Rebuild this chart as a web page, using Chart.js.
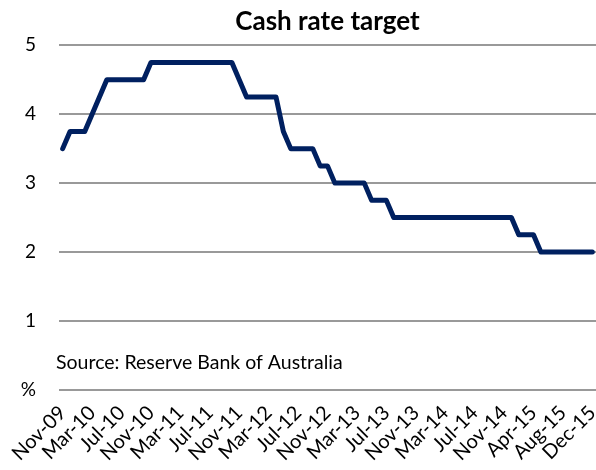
<!DOCTYPE html>
<html>
<head>
<meta charset="utf-8">
<script src="https://cdn.jsdelivr.net/npm/chart.js"></script>
<style>
  body { margin: 0; background: #fff; }
  .wrap { width: 596px; height: 470px; }
</style>
</head>
<body>
<div class="wrap"><canvas id="c" width="596" height="470"></canvas></div>
<script>
// monthly cash rate target, Nov-09 to Dec-15 (no Jan-15 observation in source)
const months = [
  'Nov-09','Dec-09',
  'Jan-10','Feb-10','Mar-10','Apr-10','May-10','Jun-10','Jul-10','Aug-10','Sep-10','Oct-10','Nov-10','Dec-10',
  'Jan-11','Feb-11','Mar-11','Apr-11','May-11','Jun-11','Jul-11','Aug-11','Sep-11','Oct-11','Nov-11','Dec-11',
  'Jan-12','Feb-12','Mar-12','Apr-12','May-12','Jun-12','Jul-12','Aug-12','Sep-12','Oct-12','Nov-12','Dec-12',
  'Jan-13','Feb-13','Mar-13','Apr-13','May-13','Jun-13','Jul-13','Aug-13','Sep-13','Oct-13','Nov-13','Dec-13',
  'Jan-14','Feb-14','Mar-14','Apr-14','May-14','Jun-14','Jul-14','Aug-14','Sep-14','Oct-14','Nov-14','Dec-14',
  'Feb-15','Mar-15','Apr-15','May-15','Jun-15','Jul-15','Aug-15','Sep-15','Oct-15','Nov-15','Dec-15'
];
const cashRate = [
  3.5, 3.75,
  3.75, 3.75, 4.0, 4.25, 4.5, 4.5, 4.5, 4.5, 4.5, 4.5, 4.75, 4.75,
  4.75, 4.75, 4.75, 4.75, 4.75, 4.75, 4.75, 4.75, 4.75, 4.75, 4.5, 4.25,
  4.25, 4.25, 4.25, 4.25, 3.75, 3.5, 3.5, 3.5, 3.5, 3.25, 3.25, 3.0,
  3.0, 3.0, 3.0, 3.0, 2.75, 2.75, 2.75, 2.5, 2.5, 2.5, 2.5, 2.5,
  2.5, 2.5, 2.5, 2.5, 2.5, 2.5, 2.5, 2.5, 2.5, 2.5, 2.5, 2.5,
  2.25, 2.25, 2.25, 2.0, 2.0, 2.0, 2.0, 2.0, 2.0, 2.0, 2.0
];
const tickLabels = [
  'Nov-09','Mar-10','Jul-10','Nov-10','Mar-11','Jul-11','Nov-11','Mar-12','Jul-12','Nov-12',
  'Mar-13','Jul-13','Nov-13','Mar-14','Jul-14','Nov-14','Apr-15','Aug-15','Dec-15'
];
const yTicks = [0, 1, 2, 3, 4, 5];

const FONT = 'Lato, "Open Sans", sans-serif';

// source note sits inside the plot, just above the zero line
const sourceNote = {
  id: 'sourceNote',
  afterDraw(chart) {
    const ctx = chart.ctx;
    const y = chart.scales.y;
    ctx.save();
    ctx.font = '19.5px ' + FONT;
    ctx.fillStyle = '#000';
    ctx.textBaseline = 'alphabetic';
    ctx.fillText('Source: Reserve Bank of Australia', chart.chartArea.left - 3, y.getPixelForValue(0.3));
    ctx.restore();
  }
};

new Chart(document.getElementById('c'), {
  type: 'line',
  data: {
    labels: months,
    datasets: [{
      data: cashRate,
      borderColor: '#002060',
      borderWidth: 5,
      pointRadius: 0,
      tension: 0,
      borderJoinStyle: 'round',
      borderCapStyle: 'round'
    }]
  },
  options: {
    responsive: false,
    animation: false,
    layout: { padding: 0 },
    plugins: {
      legend: { display: false },
      tooltip: { enabled: false },
      title: {
        display: true,
        text: 'Cash rate target',
        fullSize: false,
        color: '#000',
        font: { family: FONT, size: 26, weight: 'bold' },
        padding: { top: 6, bottom: 8 }
      }
    },
    scales: {
      x: {
        offset: true,
        grid: { display: false },
        border: { display: false },
        afterFit: s => { s.paddingRight = 0; s.paddingLeft = 0; s.height = 80; },
        ticks: {
          autoSkip: false,
          maxRotation: 45,
          minRotation: 45,
          padding: 3,
          color: '#000',
          font: { family: FONT, size: 20 },
          callback: function (v) {
            const l = this.getLabelForValue(v);
            return tickLabels.includes(l) ? l : '';
          }
        }
      },
      y: {
        min: 0,
        max: 5,
        afterBuildTicks: s => { s.ticks = yTicks.map(v => ({ value: v })); },
        afterFit: s => { s.width = 59; },
        grid: { color: '#999', lineWidth: 2, drawTicks: false },
        border: { display: false },
        ticks: {
          padding: 23,
          color: '#000',
          font: { family: FONT, size: 19 },
          callback: v => v === 0 ? '%' : v
        }
      }
    }
  },
  plugins: [sourceNote]
});
</script>
</body>
</html>
